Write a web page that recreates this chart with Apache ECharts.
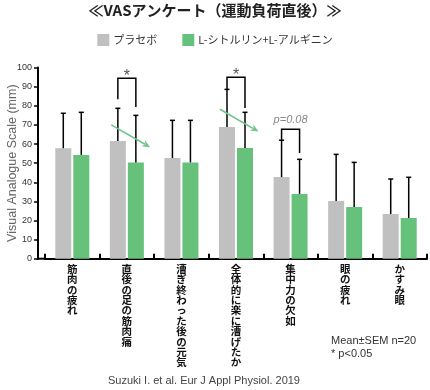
<!DOCTYPE html>
<html><head><meta charset="utf-8">
<script src="https://cdn.jsdelivr.net/npm/echarts@6/dist/echarts.min.js"></script>
<style>html,body{margin:0;padding:0;background:#fff}#c{width:430px;height:390px}</style>
</head><body><div id="c"></div>
<script>
const categories = ['筋肉の疲れ','直後の足の筋肉痛','漕ぎ終わった後の元気','全体的に楽に漕げたか','集中力の欠如','眼の疲れ','かすみ眼'];
const seriesNames = ['プラセボ','L-シトルリン+L-アルギニン'];
const placebo = [57.8, 61.6, 52.7, 68.9, 42.7, 30.2, 23.4];
const placeboSEM = [18.3, 17.1, 19.7, 19.7, 19.3, 24.4, 18.3];
const citArg = [54.3, 50.4, 50.4, 57.9, 33.9, 27.1, 21.3];
const citArgSEM = [22.3, 24.6, 22.0, 18.7, 18.1, 23.3, 21.3];
const yTicks = [0,10,20,30,40,50,60,70,80,90,100];
// brackets: [category index, top, left leg bottom, right leg bottom]
const brackets = [[1, 94.4, 83.4, 79.4], [3, 94.9, 88.6, 78.9], [4, 67.7, 62.0, 55.3]];
const bracketLabels = ['*', '*', 'p=0.08'];
// arrows: [x0, y0, x1, y1] in category units / value units
const arrows = [[0.714, 70.0, 1.427, 58.3], [2.707, 78.2, 3.412, 66.5]];

const GRAY = '#c0c0c0', GREEN = '#66c17a', ARROW = '#6fc486';
const FONT = '"Liberation Sans", "Noto Sans CJK JP", sans-serif';
const JFONT = '"Noto Sans CJK JP", "Liberation Sans", sans-serif';
const HALF = 9;

function errSeries(name, means, sems, dx) {
  return {
    type: 'custom', name: name + '_err', xAxisIndex: 0, yAxisIndex: 0, z: 5, silent: true,
    data: means.map((m, i) => [i, m, m + sems[i]]),
    renderItem: function (params, api) {
      const a = api.coord([api.value(0), api.value(1)]);
      const b = api.coord([api.value(0), api.value(2)]);
      const x = a[0] + dx;
      return { type: 'group', children: [
        { type: 'line', shape: { x1: x, y1: a[1], x2: x, y2: b[1] }, style: { stroke: '#000', lineWidth: 1.5 } },
        { type: 'line', shape: { x1: x - 2.5, y1: b[1], x2: x + 2.5, y2: b[1] }, style: { stroke: '#000', lineWidth: 1.5 } }
      ]};
    }
  };
}

const chart = echarts.init(document.getElementById('c'));
chart.setOption({
  animation: false,
  backgroundColor: '#fff',
  title: { text: '≪VASアンケート（運動負荷直後）≫', left: 'center', top: 0, padding: [3, 0, 0, 0],
    textStyle: { fontFamily: JFONT, fontSize: 15, fontWeight: 'bold', color: '#222' } },
  legend: { top: 34, left: 'center', padding: 0, itemWidth: 12, itemHeight: 12, itemGap: 25,
    icon: 'rect', data: seriesNames,
    textStyle: { fontFamily: JFONT, fontSize: 11, color: '#333', padding: [0, 0, 0, -1] } },
  grid: { left: 45, right: 3, top: 67.6, bottom: 131.3, containLabel: false, outerBoundsMode: 'none' },
  xAxis: [{
    type: 'category', data: categories,
    axisLine: { onZero: false, lineStyle: { color: '#000', width: 2 } },
    axisTick: { show: true, inside: true, length: 5, interval: 0, lineStyle: { color: '#000', width: 2 } },
    axisLabel: { interval: 0, margin: 5, fontFamily: JFONT, fontSize: 10.5, fontWeight: 'bold', color: '#111',
      lineHeight: 10.4, verticalAlign: 'top',
      formatter: v => v.split('').join('\n') }
  }, {
    type: 'value', min: -0.5, max: 6.5, show: false, gridIndex: 0
  }],
  yAxis: {
    type: 'value', min: 0, max: 100, interval: 10, offset: 7,
    name: 'Visual Analogue Scale (mm)', nameLocation: 'middle', nameGap: 19, nameRotate: 90,
    nameMoveOverlap: false,
    nameTextStyle: { fontFamily: FONT, fontSize: 12.5, color: '#666' },
    axisLine: { show: true, onZero: false, lineStyle: { color: '#000', width: 2 } },
    axisTick: { show: true, length: 4, lineStyle: { color: '#000', width: 1.5 } },
    axisLabel: { margin: 6, fontFamily: FONT, fontSize: 9, color: '#333',
      formatter: v => yTicks.includes(v) ? String(v) : '' },
    splitLine: { show: false }
  },
  series: [
    { type: 'bar', name: seriesNames[0], data: placebo, barWidth: 16, barGap: '12.5%', itemStyle: { color: GRAY }, z: 2 },
    { type: 'bar', name: seriesNames[1], data: citArg, barWidth: 16, barGap: '12.5%', itemStyle: { color: GREEN }, z: 2 },
    errSeries(seriesNames[0], placebo, placeboSEM, -HALF),
    errSeries(seriesNames[1], citArg, citArgSEM, HALF),
    {
      type: 'custom', name: 'brackets', xAxisIndex: 0, yAxisIndex: 0, z: 6, silent: true,
      data: brackets,
      renderItem: function (params, api) {
        const c = api.value(0);
        const t = api.coord([c, api.value(1)]);
        const l = api.coord([c, api.value(2)]);
        const r = api.coord([c, api.value(3)]);
        const lab = bracketLabels[params.dataIndex];
        const isStar = lab === '*';
        return { type: 'group', children: [
          { type: 'polyline', shape: { points: [[t[0] - HALF, l[1]], [t[0] - HALF, t[1]], [t[0] + HALF, t[1]], [t[0] + HALF, r[1]]] },
            style: { stroke: '#000', lineWidth: 1.5, fill: null } },
          { type: 'text', x: t[0], y: t[1] - (isStar ? 2 : 9),
            style: { text: lab, align: 'center', verticalAlign: 'middle',
              fontFamily: FONT, fontSize: isStar ? 16 : 11, fontStyle: isStar ? 'normal' : 'italic',
              fill: isStar ? '#555' : '#888' } }
        ]};
      }
    },
    {
      type: 'custom', name: 'arrows', xAxisIndex: 1, yAxisIndex: 0, z: 7, silent: true,
      data: arrows,
      renderItem: function (params, api) {
        const p0 = api.coord([api.value(0), api.value(1)]);
        const p1 = api.coord([api.value(2), api.value(3)]);
        const ang = Math.atan2(p1[1] - p0[1], p1[0] - p0[0]);
        const L = 8, W = 3.5;
        const bx = p1[0] - L * Math.cos(ang), by = p1[1] - L * Math.sin(ang);
        const nx = -Math.sin(ang) * W, ny = Math.cos(ang) * W;
        return { type: 'group', children: [
          { type: 'line', shape: { x1: p0[0], y1: p0[1], x2: bx + 2 * Math.cos(ang), y2: by + 2 * Math.sin(ang) },
            style: { stroke: ARROW, lineWidth: 1.6 } },
          { type: 'polygon', shape: { points: [[p1[0], p1[1]], [bx + nx, by + ny], [bx + 2.5 * Math.cos(ang), by + 2.5 * Math.sin(ang)], [bx - nx, by - ny]] },
            style: { fill: ARROW } }
        ]};
      }
    }
  ],
  graphic: [
    { type: 'text', left: 331, top: 335, style: { text: 'Mean±SEM n=20', fontFamily: FONT, fontSize: 11, fill: '#333' } },
    { type: 'text', left: 331, top: 348, style: { text: '* p<0.05', fontFamily: FONT, fontSize: 11, fill: '#333' } },
    { type: 'text', left: 108, top: 375, style: { text: 'Suzuki I. et al. Eur J Appl Physiol. 2019', fontFamily: FONT, fontSize: 11, fill: '#444' } }
  ]
});
const origin = chart.convertToPixel({ xAxisIndex: 1, yAxisIndex: 0 }, [-0.5, 0]);
chart.setOption({ graphic: [{}, {}, {},
  { type: 'line', shape: { x1: origin[0] - 8, y1: origin[1], x2: origin[0], y2: origin[1] }, style: { stroke: '#000', lineWidth: 2 } }
]});
</script></body></html>
